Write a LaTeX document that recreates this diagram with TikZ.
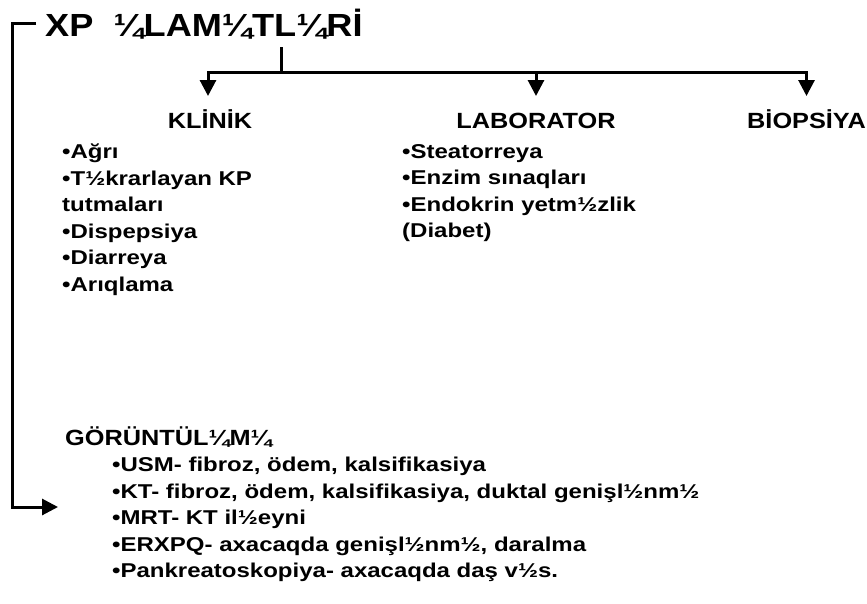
\documentclass[tikz,border=0pt]{standalone}
\usepackage{fontspec}
\setmainfont{Liberation Sans}
\newfontfamily\ttlfont[FakeStretch=1.13]{Liberation Sans}
\newfontfamily\headfont[FakeStretch=1.15]{Liberation Sans}
\newfontfamily\lstfont[FakeStretch=1.2]{Liberation Sans}
\usetikzlibrary{arrows.meta,calc}
\begin{document}
\begin{tikzpicture}[x=1pt,y=-1pt,
  conn/.style={line width=3pt},
  arr/.style={conn,-{Triangle[width=16pt,length=16pt]}},
  ttl/.style={font=\ttlfont\bfseries\fontsize{32}{38}\selectfont, inner sep=0pt, anchor=base west},
  head/.style={font=\headfont\bfseries\fontsize{22}{26}\selectfont, inner sep=0pt},
  lst/.style={font=\lstfont\bfseries\fontsize{20}{26.5}\selectfont, inner sep=0pt, anchor=north west, align=left},
]
\useasboundingbox (0,0) rectangle (867,603);

\node[ttl] (title) at (45,36) {XP\ \ ¼LAM¼TL¼Rİ};

\node[head, anchor=base] (klinik) at (210,128) {KLİNİK};
\node[head, anchor=base] (lab) at (536,128) {LABORATOR};
\node[head, anchor=base east] (biop) at (866,128) {BİOPSİYA};

\node[lst] (klist) at (62,144) {•Ağrı\\•T½krarlayan KP\\tutmaları\\•Dispepsiya\\•Diarreya\\•Arıqlama};
\node[lst] (llist) at (402,144) {•Steatorreya\\•Enzim sınaqları\\•Endokrin yetm½zlik\\(Diabet)};

\node[head, anchor=base west] (gor) at (65,445) {GÖRÜNTÜL¼M¼};
\node[lst] (glist) at (112,457) {•USM- fibroz, ödem, kalsifikasiya\\•KT- fibroz, ödem, kalsifikasiya, duktal genişl½nm½\\•MRT- KT il½eyni\\•ERXPQ- axacaqda genişl½nm½, daralma\\•Pankreatoskopiya- axacaqda daş v½s.};

\coordinate (stem) at (281,47);
\coordinate (jn) at (281,72);
\draw[conn] (stem) -- (jn);
\draw[arr] (jn) -| ([xshift=-2pt,yshift=32pt]klinik.base);
\draw[arr] (jn) -| ([yshift=32pt]lab.base);
\draw[arr] (jn) -| ([yshift=32pt]biop.base);

\coordinate (brk) at (36,23);
\coordinate (corner) at (12,507);
\coordinate (gin) at (58,507);
\draw[arr] (brk) -| (corner) -- (gin);
\end{tikzpicture}
\end{document}
